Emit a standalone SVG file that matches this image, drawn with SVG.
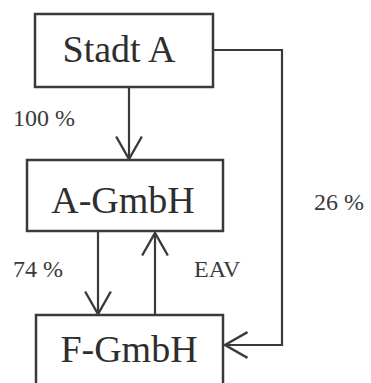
<svg xmlns="http://www.w3.org/2000/svg" width="371" height="383" viewBox="0 0 371 383">
  <style>
    .box { fill: #ffffff; stroke: #3a3a3a; stroke-width: 2.5; }
    .name { font-family: "Liberation Serif", "Times New Roman", serif; font-size: 38px; fill: #2e2e2e; text-anchor: middle; }
    .lbl { font-family: "Liberation Serif", "Times New Roman", serif; font-size: 24px; fill: #3a3a3a; }
    .edge { fill: none; stroke: #3a3a3a; stroke-width: 2.2; }
  </style>
  <defs>
    <marker id="open" markerUnits="userSpaceOnUse" markerWidth="30" markerHeight="30" viewBox="-22 -14 24 28" refX="0" refY="0" orient="auto" overflow="visible">
      <path d="M-21,-12 L0,0 L-21,12" fill="none" stroke="#3a3a3a" stroke-width="2.2"/>
    </marker>
  </defs>
  <rect width="371" height="383" fill="#ffffff"/>

  <g id="connectors">
    <path class="edge" d="M129,87 L129,159" marker-end="url(#open)"/>
    <path class="edge" d="M98,231 L98,314" marker-end="url(#open)"/>
    <path class="edge" d="M155,315 L155,233" marker-end="url(#open)"/>
    <path class="edge" d="M213,50 L282,50 L282,345 L225,345" marker-end="url(#open)"/>
  </g>

  <g id="stadt-a">
    <rect class="box" x="35" y="14" width="178" height="73"/>
    <text class="name" x="119" y="62">Stadt A</text>
  </g>
  <g id="a-gmbh">
    <rect class="box" x="27" y="160" width="196" height="71"/>
    <text class="name" x="123" y="213">A-GmbH</text>
  </g>
  <g id="f-gmbh">
    <rect class="box" x="36" y="315" width="187" height="80"/>
    <text class="name" x="129" y="362">F-GmbH</text>
  </g>

  <g id="labels">
    <text class="lbl" x="13" y="126">100 %</text>
    <text class="lbl" x="314" y="210">26 %</text>
    <text class="lbl" x="13" y="277">74 %</text>
    <text class="lbl" x="194" y="277">EAV</text>
  </g>
</svg>
